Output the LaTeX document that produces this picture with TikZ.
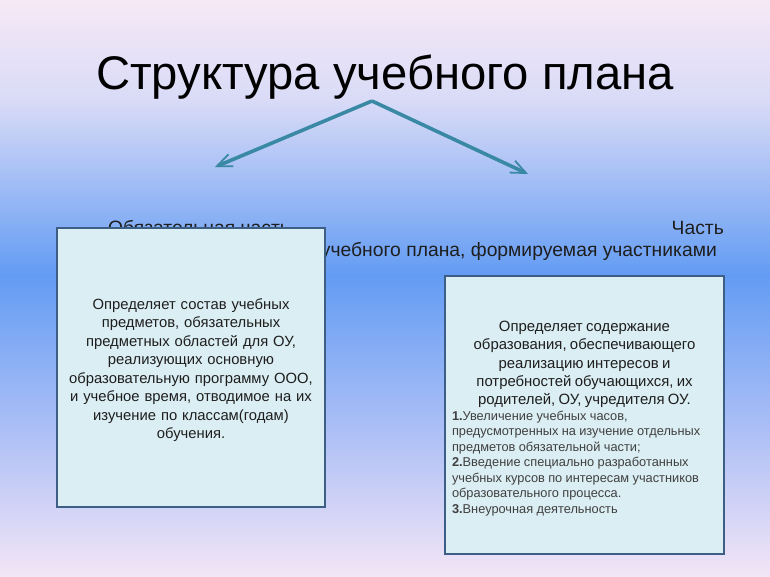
\documentclass[tikz,border=0pt]{standalone}
\usepackage{fontspec}
\setmainfont{Liberation Sans}
\usetikzlibrary{arrows.meta}
\definecolor{bgtop}{HTML}{F6E9F6}
\definecolor{bgone}{HTML}{D9DBF7}
\definecolor{bgpeak}{HTML}{639CF3}
\definecolor{bgthree}{HTML}{B6C4F6}
\definecolor{bgbot}{HTML}{F3E6F6}
\definecolor{boxfill}{HTML}{DBEEF3}
\definecolor{boxline}{HTML}{3D5F86}
\definecolor{arrowcol}{HTML}{3A89A4}
\definecolor{txt}{HTML}{1E1E1E}
\definecolor{listtxt}{HTML}{404040}
\tikzset{
  infobox/.style={draw=boxline, line width=2pt, fill=boxfill, inner sep=0pt},
  boxtext/.style={inner sep=0pt, text=txt},
  branch/.style={draw=arrowcol, line width=3.6pt,
    -{Straight Barb[length=15pt,width=13pt,line width=1.8pt]}},
  headtxt/.style={font=\fontsize{19.3}{22}\selectfont, text=txt, inner sep=0pt}
}
\begin{document}
\begin{tikzpicture}[x=1pt,y=-1pt]
\useasboundingbox (0,0) rectangle (770,577);
% background
\shade[top color=bgtop, bottom color=bgone] (0,0) rectangle (770,100);
\shade[top color=bgone, bottom color=bgpeak] (0,100) rectangle (770,275);
\shade[top color=bgpeak, bottom color=bgthree] (0,275) rectangle (770,450);
\shade[top color=bgthree, bottom color=bgbot] (0,450) rectangle (770,577);
% title
\node[anchor=base, inner sep=0pt, text=black, font=\fontsize{47.2}{52}\selectfont] (title) at (385,90) {Структура учебного плана};
% branches
\coordinate (apex) at (372,101);
\coordinate (lend) at (215,167);
\coordinate (rend) at (528,174);
\draw[branch] (apex) -- (lend);
\draw[branch] (apex) -- (rend);
% header texts
\node[headtxt, anchor=base west] (oblig) at (108,234) {Обязательная часть};
\node[headtxt, anchor=base east] (part) at (724,234) {Часть};
\node[headtxt, anchor=base east] (partb) at (717,256) {учебного плана, формируемая участниками};
% left box
\node[infobox, minimum width=268pt, minimum height=279pt] (lbox) at (191,367.5) {};
\node[boxtext, text width=262pt, align=center,
  font=\fontsize{14.8}{18.5}\selectfont] (ltext) at (191,370)
  {Определяет состав учебных\\ предметов, обязательных\\ предметных областей для ОУ,\\ реализующих основную\\ образовательную программу ООО,\\ и учебное время, отводимое на их\\ изучение по классам(годам)\\ обучения.};
% right box
\node[infobox, minimum width=279pt, minimum height=278pt] (rbox) at (584.5,415) {};
\node[boxtext, text width=265pt] (rtext) at (584.5,418.5)
  {\fontsize{14.9}{18.2}\selectfont\centering Определяет содержание\\ образования, обеспечивающего\\ реализацию интересов и\\ потребностей обучающихся, их\\ родителей, ОУ, учредителя ОУ.\par
   \raggedright\fontsize{12.8}{15.5}\selectfont\color{listtxt}
   \textbf{1.}Увеличение учебных часов,\\ предусмотренных на изучение отдельных\\ предметов обязательной части;\\
   \textbf{2.}Введение специально разработанных\\ учебных курсов по интересам участников\\ образовательного процесса.\\
   \textbf{3.}Внеурочная деятельность\par};
\end{tikzpicture}
\end{document}
